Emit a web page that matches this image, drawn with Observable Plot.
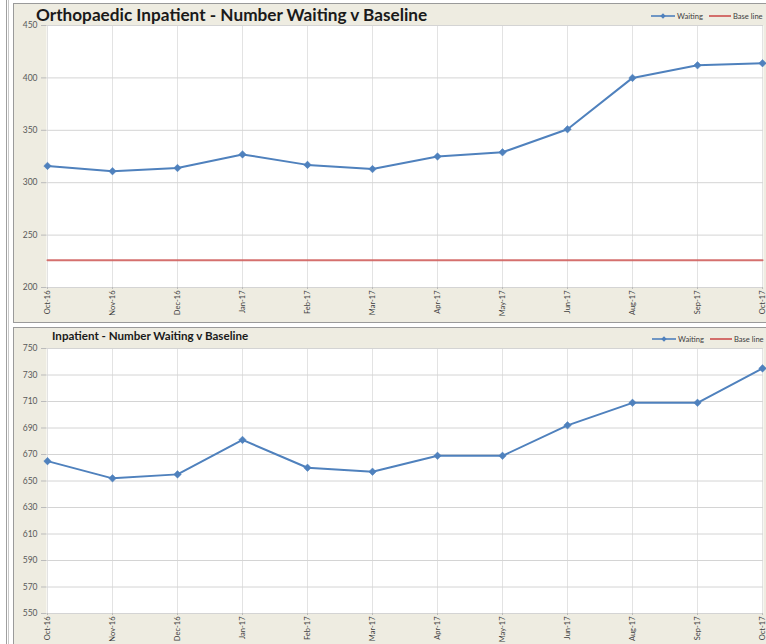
<!DOCTYPE html>
<html><head><meta charset="utf-8">
<script src="https://cdn.jsdelivr.net/npm/d3@7"></script>
<script src="https://cdn.jsdelivr.net/npm/@observablehq/plot@0.6"></script>
<style>
html,body{margin:0;padding:0}
body{width:766px;height:644px;overflow:hidden;background:#fff;position:relative;font-family:Lato,"Liberation Sans",sans-serif}
.sideline{position:absolute;left:6px;top:0;width:1px;height:644px;border-left:1px solid #a0a0a0;border-right:1px solid #c8c8c8}
.panel{position:absolute;left:13px;width:780px;border:1px solid #9a9a9a;background:#EEECE1;overflow:hidden}
.panel svg{display:block}
.title{position:absolute;font-weight:bold;color:#1a1a1a;white-space:nowrap}
.legend{position:absolute;font-size:7.6px;color:#404040;white-space:nowrap;display:flex;align-items:center}
.legend svg{display:inline-block;margin-right:2px}
</style>
</head><body>
<div class="sideline"></div>
<div id="p1" class="panel" style="top:3px;height:318px"></div>
<div id="p2" class="panel" style="top:327px;height:330px"></div>
<script>
const months = ["Oct-16","Nov-16","Dec-16","Jan-17","Feb-17","Mar-17","Apr-17","May-17","Jun-17","Aug-17","Sep-17","Oct-17"];
const orthoWaiting = [316,311,314,327,317,313,325,329,351,400,412,414];
const orthoBaseline = [226,226,226,226,226,226,226,226,226,226,226,226];
const orthoTicks = [200,250,300,350,400,450];
const inpWaiting = [665,652,655,681,660,657,669,669,692,709,709,735];
const inpTicks = [550,570,590,610,630,650,670,690,710,730,750];
const title1 = "Orthopaedic Inpatient - Number Waiting v Baseline";
const title2 = "Inpatient - Number Waiting v Baseline";
const legendLabels = ["Waiting","Base line"];

const BLUE = "#4F81BD", RED = "#D0605E";

function chart({waiting, baseline, ticks, height, mt, mb}) {
  const rows = months.map((m,i)=>({m, w: waiting[i], b: baseline ? baseline[i] : null}));
  const marks = [
    Plot.frame({fill:"white", stroke:null}),
    Plot.ruleX(months, {stroke:"#e3e3e3", strokeWidth:1}),
    Plot.ruleY(ticks, {stroke:"#d4d4d4", strokeWidth:1}),
    Plot.axisY({ticks, label:null, tickSize:5, tickPadding:4, tickFormat:d=>String(d), fontSize:8.5, stroke:"#bbb", color:"#595959"}),
    Plot.axisX({label:null, tickSize:2, tickPadding:1, tickRotate:-90, fontSize:7.5, color:"#404040", stroke:"#bbb"})
  ];
  if (baseline) marks.push(Plot.line(rows, {x:"m", y:"b", stroke:RED, strokeWidth:2, strokeOpacity:0.9}));
  marks.push(Plot.line(rows, {x:"m", y:"w", stroke:BLUE, strokeWidth:2}));
  marks.push(Plot.dot(rows, {x:"m", y:"w", symbol:"diamond2", r:3.4, fill:BLUE, stroke:BLUE, strokeWidth:0.5}));
  return Plot.plot({
    width: 770, height,
    marginLeft: 32, marginRight: 21, marginTop: mt, marginBottom: mb,
    style: {background:"transparent", fontFamily:"Lato, 'Liberation Sans', sans-serif", color:"#595959"},
    x: {type:"point", domain: months, padding:0, axis:null},
    y: {domain:[ticks[0], ticks[ticks.length-1]], axis:null},
    marks
  });
}

function legend(parent, top, left) {
  const d = document.createElement("div");
  d.className = "legend";
  d.style.top = top + "px"; d.style.left = left + "px";
  d.innerHTML =
    `<svg width="24" height="8"><line x1="0" y1="4" x2="24" y2="4" stroke="${BLUE}" stroke-width="1.6"/><path d="M12,1.3L14.7,4L12,6.7L9.3,4Z" fill="${BLUE}"/></svg>` +
    `<span>${legendLabels[0]}</span><svg width="22" height="8" style="margin-left:6px"><line x1="0" y1="4" x2="22" y2="4" stroke="${RED}" stroke-width="1.8"/></svg><span>${legendLabels[1]}</span>`;
  parent.appendChild(d);
}

const p1 = document.getElementById("p1");
p1.appendChild(chart({waiting: orthoWaiting, baseline: orthoBaseline, ticks: orthoTicks, height: 318, mt: 21, mb: 35}));
const t1 = document.createElement("div");
t1.className = "title"; t1.textContent = title1;
t1.style.cssText = "left:22px;top:0px;font-size:17.2px";
p1.appendChild(t1);
legend(p1, 7, 637);

const p2 = document.getElementById("p2");
p2.appendChild(chart({waiting: inpWaiting, baseline: null, ticks: inpTicks, height: 317, mt: 20, mb: 32}));
const t2 = document.createElement("div");
t2.className = "title"; t2.textContent = title2;
t2.style.cssText = "left:38px;top:1px;font-size:11.6px";
p2.appendChild(t2);
legend(p2, 6, 638);
</script>
</body></html>
